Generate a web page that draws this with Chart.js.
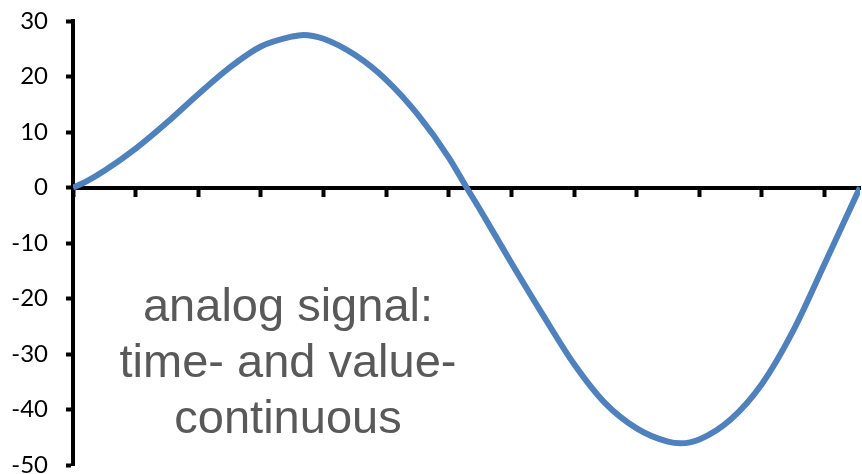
<!DOCTYPE html>
<html>
<head>
<meta charset="utf-8">
<script src="https://cdn.jsdelivr.net/npm/chart.js@4"></script>
<style>
  html, body { margin: 0; padding: 0; background: #ffffff; }
  #wrap { width: 862px; height: 474px; }
</style>
</head>
<body>
<div id="wrap"><canvas id="chart" width="862" height="474"></canvas></div>
<script>
// time axis in radians (one full period)
const timeValues = [
  0, 0.1, 0.25, 0.5, 0.75, 1.0, 1.25, 1.5, 1.75, 1.84, 2.0, 2.25, 2.5, 2.75,
  3.0, 3.142, 3.25, 3.5, 3.75, 4.0, 4.25, 4.5, 4.75, 4.85, 5.0, 5.25, 5.5,
  5.75, 6.0, 6.25, 6.283
];
const signalValues = [
  0, 1.0, 3.0, 7.0, 11.7, 16.8, 21.6, 25.4, 27.2, 27.5, 26.8, 23.9, 19.4, 13.2,
  5.4, 0, -4.0, -13.6, -22.9, -31.8, -38.9, -43.4, -45.8, -46.1, -45.4, -41.8, -35.4,
  -25.8, -13.8, -1.6, 0
];
const yTicks = { min: -50, max: 30, step: 10 };
const xTicks = { min: 0, max: 6.283, step: 0.5 };
const noteLines = ["analog signal:", "time- and value-", "continuous"];

const points = timeValues.map((t, i) => ({ x: t, y: signalValues[i] }));

// big grey caption inside the plot
const captionPlugin = {
  id: "caption",
  afterDraw(chart) {
    const ctx = chart.ctx;
    const area = chart.chartArea;
    ctx.save();
    ctx.fillStyle = "#595959";
    ctx.font = "47px 'Liberation Sans', Arial, sans-serif";
    ctx.textAlign = "center";
    ctx.textBaseline = "alphabetic";
    const cx = area.left + 215;
    noteLines.forEach((line, i) => {
      ctx.fillText(line, cx, area.top + 300 + i * 56);
    });
    ctx.restore();
  }
};

new Chart(document.getElementById("chart"), {
  type: "scatter",
  data: {
    datasets: [{
      data: points,
      showLine: true,
      borderColor: "#4f81bd",
      backgroundColor: "#4f81bd",
      borderWidth: 6,
      pointRadius: 0,
      cubicInterpolationMode: "monotone",
      fill: false
    }]
  },
  options: {
    responsive: false,
    animation: false,
    layout: { padding: { top: 21, right: 2, bottom: 9, left: 0 } },
    plugins: { legend: { display: false }, tooltip: { enabled: false } },
    scales: {
      x: {
        type: "linear",
        position: { y: 0 },
        min: xTicks.min,
        max: xTicks.max,
        ticks: { display: false, stepSize: xTicks.step, includeBounds: false },
        grid: { drawOnChartArea: false, drawTicks: true, tickLength: 7, tickWidth: 4, tickColor: "#000" },
        border: { display: true, color: "#000", width: 4 },
        afterFit(scale) { scale.height = 0; }
      },
      y: {
        type: "linear",
        position: "left",
        min: yTicks.min,
        max: yTicks.max,
        ticks: {
          stepSize: yTicks.step,
          color: "#000",
          padding: 18,
          font: { family: "Lato, 'Open Sans', sans-serif", size: 24 }
        },
        grid: { drawOnChartArea: false, drawTicks: true, tickLength: 7, tickWidth: 4, tickColor: "#000" },
        border: { display: true, color: "#000", width: 4 },
        afterFit(scale) {
          scale.width = 73;
          scale.paddingTop = 0;
          scale.paddingBottom = 0;
        }
      }
    }
  },
  plugins: [captionPlugin]
});
</script>
</body>
</html>
